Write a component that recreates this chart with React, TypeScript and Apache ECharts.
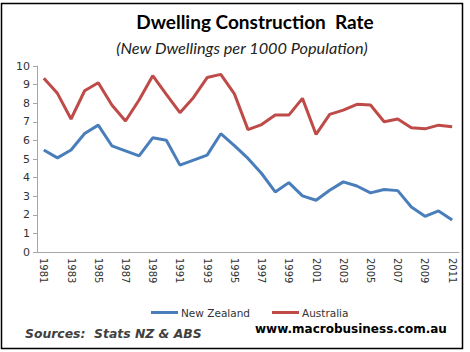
import React, { useEffect, useRef } from "react";
import * as echarts from "echarts";

const years: string[] = [];
for (let y = 1981; y <= 2011; y++) years.push(String(y));

const newZealand = [
  5.48, 5.06, 5.48, 6.37, 6.82, 5.71, 5.44, 5.17, 6.14, 6.01,
  4.67, 4.94, 5.21, 6.36, 5.72, 5.03, 4.22, 3.23, 3.73, 3.02,
  2.78, 3.32, 3.77, 3.55, 3.18, 3.36, 3.3, 2.42, 1.92, 2.21, 1.72,
];
const australia = [
  9.34, 8.53, 7.15, 8.67, 9.1, 7.9, 7.04, 8.17, 9.48, 8.47,
  7.49, 8.31, 9.38, 9.55, 8.5, 6.58, 6.85, 7.36, 7.36, 8.26,
  6.32, 7.4, 7.63, 7.94, 7.9, 7.0, 7.15, 6.68, 6.62, 6.82, 6.73,
];

const yTicks = { min: 0, max: 10, interval: 1 };

export default function App() {
  const ref = useRef<HTMLDivElement>(null);
  useEffect(() => {
    if (!ref.current) return;
    const chart = echarts.init(ref.current, null, { renderer: "svg" });
    chart.setOption({
      animation: false,
      backgroundColor: "#ffffff",
      title: [
        {
          text: "Dwelling Construction  Rate",
          left: 250,
          top: 7,
          textAlign: "center",
          textStyle: { fontFamily: "Lato", fontWeight: "bold", fontSize: 19, color: "#000" },
        },
        {
          text: "(New Dwellings per 1000 Population)",
          left: 237,
          top: 34,
          textAlign: "center",
          textStyle: { fontFamily: "Lato", fontStyle: "italic", fontWeight: "normal", fontSize: 16.3, color: "#222" },
        },
      ],
      grid: { left: 37, right: 11, top: 66, bottom: 100, containLabel: false },
      xAxis: {
        type: "category",
        data: years,
        boundaryGap: true,
        axisLine: { lineStyle: { color: "#a6a6a6", width: 1 } },
        axisTick: { interval: 1, length: 5, lineStyle: { color: "#a6a6a6" } },
        axisLabel: {
          interval: 1,
          rotate: -90,
          margin: 6,
          fontFamily: "DejaVu Sans",
          fontSize: 10,
          color: "#333",
        },
        splitLine: { show: false },
      },
      yAxis: {
        type: "value",
        min: yTicks.min,
        max: yTicks.max,
        interval: yTicks.interval,
        axisLine: { show: true, lineStyle: { color: "#a6a6a6", width: 1 } },
        axisTick: { show: true, length: 4, lineStyle: { color: "#a6a6a6" } },
        axisLabel: { fontFamily: "DejaVu Sans", fontSize: 11, color: "#333", margin: 7 },
        splitLine: { show: false },
      },
      legend: {
        left: 146,
        top: 302,
        itemWidth: 27,
        itemHeight: 3,
        itemGap: 22,
        icon: "rect",
        textStyle: { fontFamily: "DejaVu Sans", fontSize: 10.5, color: "#333", padding: [0, 0, 0, -2] },
        data: ["New Zealand", "Australia"],
      },
      series: [
        {
          name: "New Zealand",
          type: "line",
          data: newZealand,
          symbol: "none",
          lineStyle: { color: "#4a7ebb", width: 3 },
          itemStyle: { color: "#4a7ebb" },
        },
        {
          name: "Australia",
          type: "line",
          data: australia,
          symbol: "none",
          lineStyle: { color: "#be4b48", width: 3 },
          itemStyle: { color: "#be4b48" },
        },
      ],
      graphic: [
        {
          type: "rect",
          shape: { x: 1.5, y: 3.5, width: 461, height: 345 },
          style: { fill: "none", stroke: "#000", lineWidth: 1.5 },
          silent: true,
        },
        {
          type: "text",
          left: 25,
          top: 327,
          style: {
            text: "Sources:  Stats NZ & ABS",
            fontFamily: "DejaVu Sans",
            fontWeight: "bold",
            fontStyle: "italic",
            fontSize: 12.4,
            fill: "#404040",
          },
        },
        {
          type: "text",
          left: 255,
          top: 323,
          style: {
            text: "www.macrobusiness.com.au",
            fontFamily: "DejaVu Sans",
            fontWeight: "bold",
            fontSize: 12,
            fill: "#000",
          },
        },
      ],
    });
    return () => chart.dispose();
  }, []);
  return (
    <div
      ref={ref}
      style={{ position: "fixed", left: 0, top: 0, width: 470, height: 352 }}
    />
  );
}
